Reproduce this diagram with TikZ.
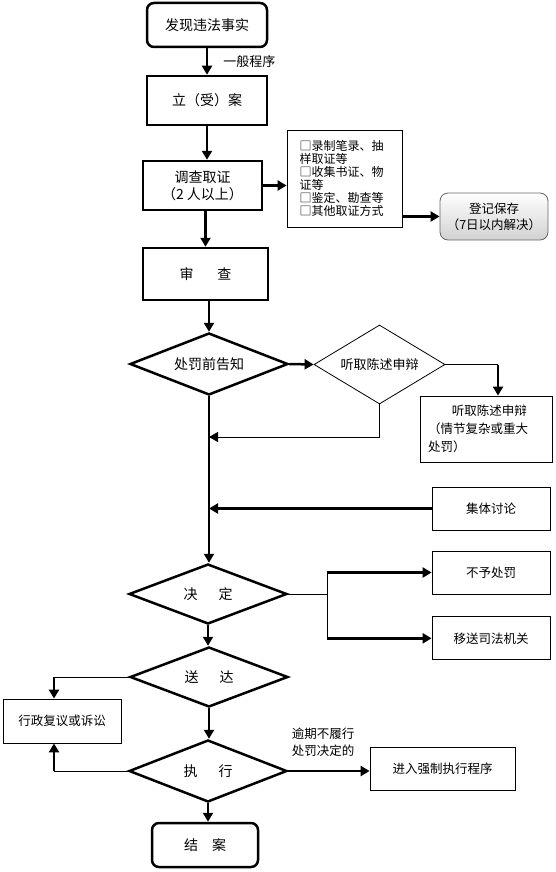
\documentclass[tikz,border=0pt]{standalone}
\usepackage{fontspec}
\setmainfont{Noto Sans CJK SC}
\usetikzlibrary{arrows.meta,shapes.geometric,positioning}

\begin{document}
\begin{tikzpicture}[x=1pt, y=-1pt,
  mainbox/.style={rectangle, draw, line width=2.5pt, inner sep=0pt, align=center,
                  font=\fontsize{14pt}{17pt}\selectfont},
  endbox/.style={mainbox, rounded corners=7pt},
  choice/.style={diamond, draw, line width=2.5pt, inner sep=0pt, aspect=2.6,
                 font=\fontsize{14pt}{17pt}\selectfont},
  sidebox/.style={rectangle, draw, line width=0.8pt, inner sep=0pt, align=center,
                  font=\fontsize{12.5pt}{16pt}\selectfont},
  lbl/.style={font=\fontsize{13pt}{16pt}\selectfont, inner sep=0pt},
  arr/.style={-{Triangle[length=9pt, width=10pt]}, line width=2.5pt},
  link/.style={line width=0.8pt}
]
\useasboundingbox (0,0) rectangle (556,872);

% main column
\node[endbox, minimum width=120pt, minimum height=44pt] (find) at (207,25) {发现违法事实};
\node[mainbox, minimum width=120pt, minimum height=49pt] (file) at (207,100.5) {立（受）案};
\node[mainbox, minimum width=119pt, minimum height=49pt] (inv) at (202.5,185.5) {调查取证\\（2 人以上）};
\node[mainbox, minimum width=125pt, minimum height=52pt] (review) at (205.5,274) {审\hspace{1.7em}查};
\node[choice, minimum width=158pt, minimum height=62pt] (notice) at (209,364) {处罚前告知};
\node[choice, minimum width=158pt, minimum height=60pt] (decide) at (208,594) {决\hspace{1.5em}定};
\node[choice, minimum width=158pt, minimum height=60pt] (deliver) at (209,677) {送\hspace{1.5em}达};
\node[choice, minimum width=158pt, minimum height=62pt] (exec) at (208,771) {执\hspace{1.5em}行};
\node[endbox, minimum width=106pt, minimum height=44pt] (close) at (205,845) {结\hspace{1em}案};

% side boxes
\node[sidebox, minimum width=115pt, minimum height=97pt, text width=90pt, align=left,
      font=\fontsize{12pt}{13pt}\selectfont] (evid) at (344.5,178.5)
      {□录制笔录、抽\\样取证等\\□收集书证、物\\证等\\□鉴定、勘查等\\□其他取证方式};
\node[sidebox, rounded corners=8pt, draw=black!60, top color=white, bottom color=black!18,
      minimum width=108pt, minimum height=47pt] (keep) at (494,216.5) {登记保存\\（7日以内解决）};
\node[choice, line width=0.8pt, minimum width=131pt, minimum height=79pt,
      font=\fontsize{13pt}{15pt}\selectfont] (hear) at (379.5,364.5) {听取陈述申辩};
\node[sidebox, minimum width=132pt, minimum height=66pt, text width=116pt, align=left,
      font=\fontsize{12.5pt}{18pt}\selectfont] (hearbox) at (486,429)
      {\hspace{1.9em}听取陈述申辩\\（情节复杂或重大\\处罚）};
\node[sidebox, minimum width=118pt, minimum height=43pt] (discuss) at (491,508.5) {集体讨论};
\node[sidebox, minimum width=118pt, minimum height=43pt] (nopen) at (491,572.5) {不予处罚};
\node[sidebox, minimum width=118pt, minimum height=43pt, below=22pt of nopen] (transfer) {移送司法机关};
\node[sidebox, minimum width=118pt, minimum height=44pt] (appeal) at (62,721) {行政复议或诉讼};
\node[sidebox, minimum width=145pt, minimum height=43pt] (force) at (442.5,768.5) {进入强制执行程序};
\node[lbl, align=left, font=\fontsize{12.5pt}{17pt}\selectfont] (late) at (323,742) {逾期不履行\\处罚决定的};

\coordinate (hb) at (498,364.5);
\coordinate (back) at (209,437);
\coordinate (merge) at (209,508.5);
\coordinate (split) at (327,594);
\coordinate (ap) at (54,677);

\draw[arr] (find) -- node[lbl, right=15pt] (general) {一般程序} (file);
\draw[arr] (file.south) -- (file.south |- inv.north);
\draw[arr] (inv.east) -- (evid.west |- inv.east);
\draw[arr] (evid.east |- keep.west) -- (keep.west);
\draw[arr] (review.north |- inv.south) -- (review.north);
\draw[arr] (notice.north |- review.south) -- (notice.north);
\draw[arr] (notice.east) -- (hear.west);
\draw[link] (hear.east) -- (hb);
\draw[arr] (hb) -- (hb |- hearbox.north);
\draw[arr, line width=0.8pt] (hear.south) |- (back);
\draw[arr] (notice.south) -- (notice.south |- decide.north);
\draw[arr] (discuss.west) -- (merge);
\draw[link] (decide.east) -- (split);
\draw[link] (split |- nopen.west) -- (split |- transfer.west);
\draw[arr] (split |- nopen.west) -- (nopen.west);
\draw[arr] (split |- transfer.west) -- (transfer.west);
\draw[arr] (decide.south) -- (decide.south |- deliver.north);
\draw[link] (deliver.west) -- (ap);
\draw[arr] (ap) -- (ap |- appeal.north);
\draw[arr] (deliver.south) -- (deliver.south |- exec.north);
\draw[link] (exec.west) -- (exec.west -| ap);
\draw[arr] (exec.west -| ap) -- (ap |- appeal.south);
\draw[arr] (exec.east) -- (exec.east -| force.west);
\draw[arr] (exec.south) -- (exec.south |- close.north);

\end{tikzpicture}
\end{document}
